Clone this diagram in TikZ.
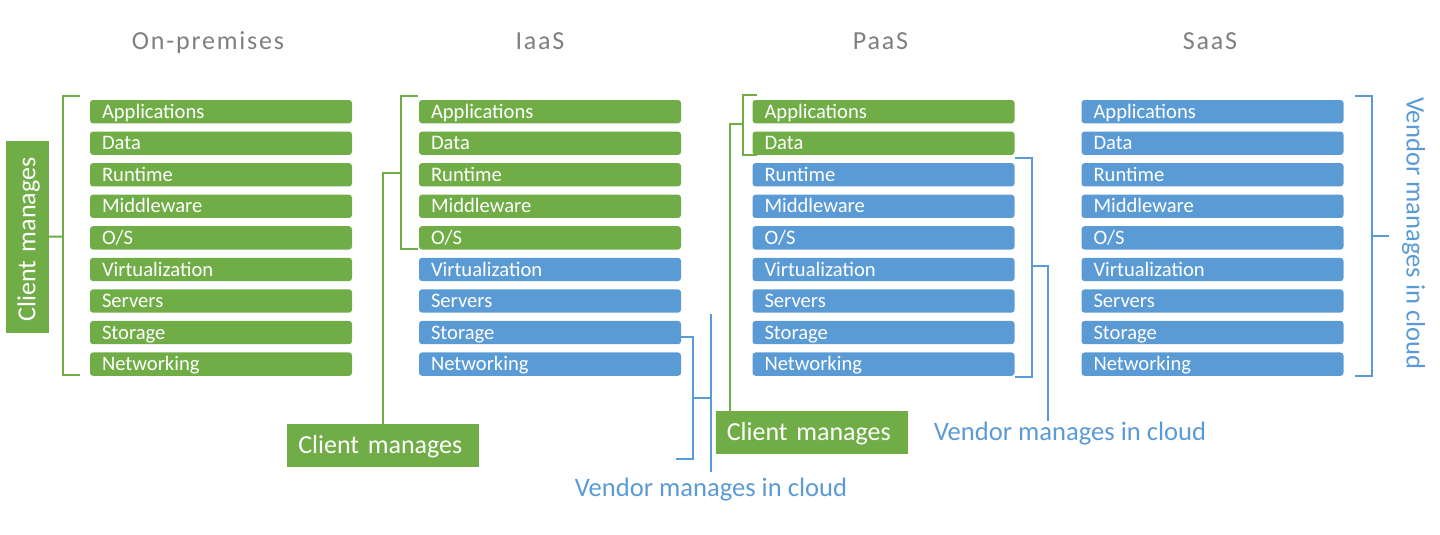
\documentclass[tikz,border=0pt]{standalone}
\usepackage{fontspec}
\setmainfont{Carlito}
\usepackage{tikz}
\usetikzlibrary{positioning, calc}
\definecolor{cgreen}{HTML}{70AD47}
\definecolor{cblue}{HTML}{5B9BD5}
\definecolor{cgray}{HTML}{7F7F7F}
\tikzset{
  layer/.style={rounded corners=3pt, text=white, align=left,
                text width=238pt, inner xsep=12pt, inner ysep=0pt,
                minimum height=23.3pt, text height=13.2pt, text depth=0pt,
                font=\fontsize{20.6}{24}\selectfont},
  gbox/.style={layer, fill=cgreen},
  bbox/.style={layer, fill=cblue},
  cbox/.style={fill=cgreen, text=white, align=left, text width=170pt,
               inner xsep=11pt, inner ysep=0pt, minimum height=43pt,
               text height=16.7pt, text depth=0pt, font=\fontsize{26}{30}\selectfont},
  vlabel/.style={text=cblue, inner xsep=0pt, text height=17pt, text depth=0pt,
                 font=\fontsize{26.6}{30}\selectfont},
  ttl/.style={text=cgray, inner sep=0pt, text height=17pt, text depth=0pt,
              font=\fontsize{26}{30}\selectfont\addfontfeature{LetterSpace=7}},
  gline/.style={draw=cgreen, line width=2pt},
  bline/.style={draw=cblue, line width=2pt},
}
\begin{document}
\begin{tikzpicture}[x=1pt, y=-1pt]
  \useasboundingbox (0,0) rectangle (1440,535);

  % Titles
  \node[ttl] (t1) at (208,41.5) {On-premises};
  \node[ttl] (t2) at (540,41.5) {IaaS};
  \node[ttl] (t3) at (880.5,41.5) {PaaS};
  \node[ttl] (t4) at (1210,41.5) {SaaS};

  % On-premises
  \node[gbox] (on1) at (221,111.65) {Applications};
  \node[gbox, below=7.86pt of on1] (on2) {Data};
  \node[gbox, below=7.86pt of on2] (on3) {Runtime};
  \node[gbox, below=7.86pt of on3] (on4) {Middleware};
  \node[gbox, below=7.86pt of on4] (on5) {O/S};
  \node[gbox, below=7.86pt of on5] (on6) {Virtualization};
  \node[gbox, below=7.86pt of on6] (on7) {Servers};
  \node[gbox, below=7.86pt of on7] (on8) {Storage};
  \node[gbox, below=7.86pt of on8] (on9) {Networking};

  % IaaS
  \node[gbox] (ia1) at (550,111.65) {Applications};
  \node[gbox, below=7.86pt of ia1] (ia2) {Data};
  \node[gbox, below=7.86pt of ia2] (ia3) {Runtime};
  \node[gbox, below=7.86pt of ia3] (ia4) {Middleware};
  \node[gbox, below=7.86pt of ia4] (ia5) {O/S};
  \node[bbox, below=7.86pt of ia5] (ia6) {Virtualization};
  \node[bbox, below=7.86pt of ia6] (ia7) {Servers};
  \node[bbox, below=7.86pt of ia7] (ia8) {Storage};
  \node[bbox, below=7.86pt of ia8] (ia9) {Networking};

  % PaaS
  \node[gbox] (pa1) at (883.5,111.65) {Applications};
  \node[gbox, below=7.86pt of pa1] (pa2) {Data};
  \node[bbox, below=7.86pt of pa2] (pa3) {Runtime};
  \node[bbox, below=7.86pt of pa3] (pa4) {Middleware};
  \node[bbox, below=7.86pt of pa4] (pa5) {O/S};
  \node[bbox, below=7.86pt of pa5] (pa6) {Virtualization};
  \node[bbox, below=7.86pt of pa6] (pa7) {Servers};
  \node[bbox, below=7.86pt of pa7] (pa8) {Storage};
  \node[bbox, below=7.86pt of pa8] (pa9) {Networking};

  % SaaS
  \node[bbox] (sa1) at (1212.5,111.65) {Applications};
  \node[bbox, below=7.86pt of sa1] (sa2) {Data};
  \node[bbox, below=7.86pt of sa2] (sa3) {Runtime};
  \node[bbox, below=7.86pt of sa3] (sa4) {Middleware};
  \node[bbox, below=7.86pt of sa4] (sa5) {O/S};
  \node[bbox, below=7.86pt of sa5] (sa6) {Virtualization};
  \node[bbox, below=7.86pt of sa6] (sa7) {Servers};
  \node[bbox, below=7.86pt of sa7] (sa8) {Storage};
  \node[bbox, below=7.86pt of sa8] (sa9) {Networking};

  % Client / vendor labels
  \node[cbox, rotate=90] (cm1) at (27,236.5) {Client manages};
  \node[cbox] (cm2) at (383.3,445.3) {Client manages};
  \node[cbox] (cm3) at (811.8,432.2) {Client manages};
  \node[vlabel, inner ysep=7.8pt] (vl1) at (711,488) {Vendor manages in cloud};
  \node[vlabel, inner ysep=2.8pt] (vl2) at (1070,432) {Vendor manages in cloud};
  \node[vlabel, rotate=-90] (vl3) at (1415,233.3) {Vendor manages in cloud};

  % Brackets
  \draw[gline] (80,95.7) -- (63.3,95.7) -- (63.3,375) -- (80,375);
  \coordinate (onb) at (63.3,236.7);
  \draw[gline] (onb) -- (cm1.south);

  \draw[gline] (417.7,95.7) -- (400.7,95.7) -- (400.7,249) -- (417.7,249);
  \coordinate (iab) at (400.7,172.7);
  \draw[gline] (iab) -- (iab -| cm2.north) -- (cm2.north);

  \draw[bline] (681,336.7) -- (693.3,336.7) -- (693.3,459) -- (676,459);
  \draw[bline] (693.3,398) -- (711,398);
  \draw[bline] (vl1.north) -- ++(0,-157.7);

  \draw[gline] (756.7,95) -- (742.7,95) -- (742.7,155) -- (756.7,155);
  \coordinate (pab) at (742.7,124.3);
  \draw[gline] (pab) -- ++(-12.7,0) coordinate (pac) -- (pac |- cm3.north);

  \draw[bline] (1015,157.7) -- (1031.7,157.7) -- (1031.7,376.7) -- (1015,376.7);
  \coordinate (pad) at (1031.7,266);
  \draw[bline] (pad) -- ++(16.6,0) coordinate (pae) -- (pae |- vl2.north);

  \draw[bline] (1355,96) -- (1372.3,96) -- (1372.3,375.7) -- (1355,375.7);
  \draw[bline] (1372.3,235.7) -- ++(17,0);
\end{tikzpicture}
\end{document}
